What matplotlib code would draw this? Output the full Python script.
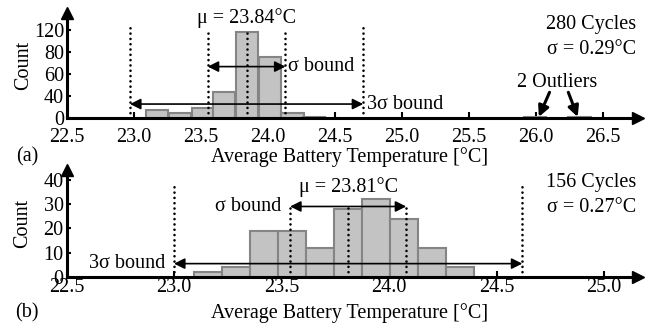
import numpy as np
import matplotlib
matplotlib.use("Agg")
import matplotlib.pyplot as plt

plt.rcParams['font.family'] = ['Liberation Serif', 'DejaVu Serif']

FS = 14.5

# histogram (a): bin left edges [degC] and counts, 280 cycles
bins_a = [23.09, 23.26, 23.43, 23.59, 23.76, 23.93, 24.10, 24.26, 25.91, 26.24]
counts_a = [11, 7, 14, 35, 117, 83, 7, 1, 1, 1]
width_a = 0.167
mu_a, sigma_a, cycles_a = 23.84, 0.29, 280
yticks_a = [0, 30, 60, 90, 120]
ytick_labels_a = ["0", "40", "60", "80", "120"]
outliers_a = [26.02, 26.31]

# histogram (b): 156 cycles
bins_b = [23.095, 23.225, 23.355, 23.485, 23.615, 23.745, 23.875, 24.005,
          24.135, 24.265]
counts_b = [2, 4, 19, 19, 12, 28, 32, 24, 12, 4]
width_b = 0.13
mu_b, sigma_b, cycles_b = 23.81, 0.27, 156
yticks_b = [0, 10, 20, 30, 40]
ytick_labels_b = ["0", "10", "20", "30", "40"]

xticks_a = [22.5, 23.0, 23.5, 24.0, 24.5, 25.0, 25.5, 26.0, 26.5]
xticks_b = [22.5, 23.0, 23.5, 24.0, 24.5, 25.0]

fig = plt.figure(figsize=(6.62, 3.24), dpi=100)
W, H = 662.0, 324.0
ax_a = fig.add_axes([67 / W, 1 - 118 / H, (638 - 67) / W, 105 / H])
ax_b = fig.add_axes([66.5 / W, 1 - 277 / H, (638 - 66.5) / W, 107 / H])


def style_axes(ax, xticks, yticks, ylabels, xpad):
    for s in ['top', 'right']:
        ax.spines[s].set_visible(False)
    for s in ['left', 'bottom']:
        ax.spines[s].set_linewidth(2.2)
    ax.set_xticks(xticks)
    ax.set_xticklabels(["%.1f" % t for t in xticks], fontsize=FS)
    ax.set_yticks(yticks)
    ax.set_yticklabels(ylabels, fontsize=FS)
    ax.tick_params(axis='x', direction='in', length=4, width=1.5, pad=xpad)
    ax.tick_params(axis='y', direction='in', length=3, width=1.5, pad=2)
    # arrow heads at the ends of both axes
    ax.plot(1, 0, '>k', ms=9, transform=ax.transAxes, clip_on=False)
    ax.plot(0, 1, '^k', ms=9, transform=ax.transAxes, clip_on=False)
    ax.set_ylabel("Count", fontsize=FS)
    ax.yaxis.set_label_coords(-0.06, 0.5)


def dotted(ax, x, top):
    ax.plot([x, x], [0, top], color='k', lw=1.9, ls=(0, (0.01, 2.0)),
            dash_capstyle='round')


def span(ax, x0, x1, y):
    ax.annotate("", xy=(x0, y), xytext=(x1, y),
                arrowprops=dict(arrowstyle='<|-|>', lw=1.2, color='k',
                                mutation_scale=16, shrinkA=0, shrinkB=0))


# ---- panel (a)
ax = ax_a
ax.bar(bins_a, counts_a, width=width_a, align='edge', color='#c3c3c3',
       edgecolor='#858585', lw=1.5, zorder=2)
ax.set_xlim(22.5, 26.76)
ax.set_ylim(0, 143)
style_axes(ax, xticks_a, yticks_a, ytick_labels_a, 7)

lo3, hi3 = mu_a - 3 * sigma_a, mu_a + 3 * sigma_a
lo1, hi1 = mu_a - sigma_a, mu_a + sigma_a
for x in (lo3, hi3):
    dotted(ax, x, 127)
for x in (lo1, mu_a, hi1):
    dotted(ax, x, 118)
span(ax, lo1, hi1, 70)
span(ax, lo3, hi3, 19)
ax.text(hi1 + 0.02, 70, "σ bound", fontsize=FS, ha='left', va='center')
ax.text(hi3 + 0.03, 19, "3σ bound", fontsize=FS, ha='left', va='center')
ax.text(mu_a, 136, "μ = %.2f°C" % mu_a, fontsize=FS, ha='center',
        va='center')
ax.text(26.16, 49, "2 Outliers", fontsize=FS, ha='center', va='center')
for x_tip, x_tail in zip(outliers_a, [26.1, 26.24]):
    ax.annotate("", xy=(x_tip, 1.5), xytext=(x_tail, 35),
                arrowprops=dict(arrowstyle='-|>', lw=2.2, color='k',
                                mutation_scale=16, shrinkA=0, shrinkB=0))

fig.text(636 / W, 1 - 24 / H, "%d Cycles" % cycles_a, fontsize=FS,
         ha='right', va='center')
fig.text(636 / W, 1 - 50 / H, "σ = %.2f°C" % sigma_a, fontsize=FS,
         ha='right', va='center')
fig.text(350 / W, 1 - 157 / H, "Average Battery Temperature [°C]",
         fontsize=FS, ha='center', va='center')
fig.text(27 / W, 1 - 157 / H, "(a)", fontsize=FS, ha='center', va='center')

# ---- panel (b)
ax = ax_b
ax.bar(bins_b, counts_b, width=width_b, align='edge', color='#c3c3c3',
       edgecolor='#858585', lw=1.5, zorder=2)
ax.set_xlim(22.5, 25.158)
ax.set_ylim(0, 44)
style_axes(ax, xticks_b, yticks_b, ytick_labels_b, 1)

lo3, hi3 = mu_b - 3 * sigma_b, mu_b + 3 * sigma_b
lo1, hi1 = mu_b - sigma_b, mu_b + sigma_b
for x in (lo3, hi3):
    dotted(ax, x, 38.5)
for x in (lo1, mu_b, hi1):
    dotted(ax, x, 30.5)
span(ax, lo1, hi1, 29)
span(ax, lo3, hi3, 5.5)
ax.text(lo1 - 0.04, 29, "σ bound", fontsize=FS, ha='right', va='center')
ax.text(lo3 - 0.04, 5.5, "3σ bound", fontsize=FS, ha='right', va='center')
ax.text(mu_b, 37, "μ = %.2f°C" % mu_b, fontsize=FS, ha='center',
        va='center')

fig.text(636 / W, 1 - 182 / H, "%d Cycles" % cycles_b, fontsize=FS,
         ha='right', va='center')
fig.text(636 / W, 1 - 207 / H, "σ = %.2f°C" % sigma_b, fontsize=FS,
         ha='right', va='center')
fig.text(350 / W, 1 - 313 / H, "Average Battery Temperature [°C]",
         fontsize=FS, ha='center', va='center')
fig.text(27 / W, 1 - 313 / H, "(b)", fontsize=FS, ha='center', va='center')

fig.savefig("out.png", dpi=100)
